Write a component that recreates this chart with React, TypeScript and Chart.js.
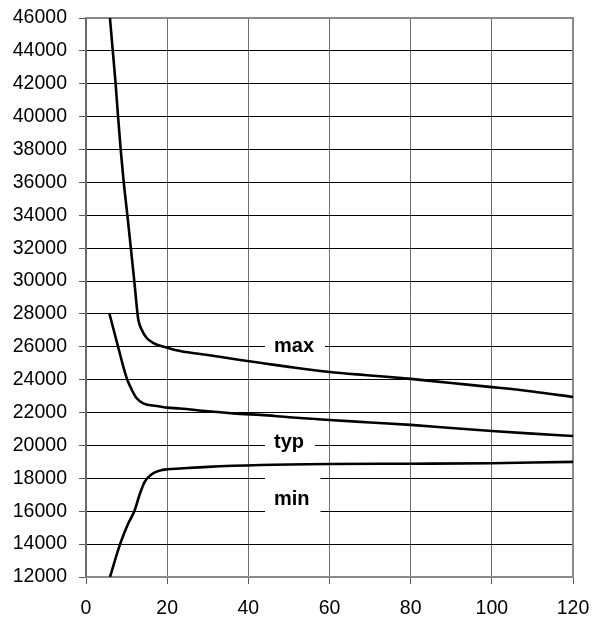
import React, { useEffect, useRef } from "react";
import { Chart, registerables } from "chart.js";

Chart.register(...registerables);

const xTicks = [0, 20, 40, 60, 80, 100, 120];
const yMin = 12000;
const yMax = 46000;

const maxX = [5.9, 6.6, 7.3, 7.9, 8.55, 9.3, 10.2, 11.05, 11.9, 12.7, 12.9, 13.7, 14.9, 16.6, 20, 23.2, 30, 38, 44, 50, 60, 70, 80, 90, 100, 110, 120];
const maxY = [46000, 44000, 42000, 40000, 38000, 36000, 34000, 32000, 30000, 28000, 27630, 27050, 26550, 26230, 25950, 25750, 25500, 25200, 24990, 24780, 24470, 24260, 24050, 23800, 23550, 23280, 22950];

const typX = [5.75, 7.96, 9.2, 10.2, 11.3, 12.5, 14.1, 17.4, 20, 23.2, 30, 38, 43, 50, 60, 70, 80, 90, 100, 110, 120];
const typY = [28040, 25950, 24790, 23980, 23375, 22870, 22565, 22400, 22300, 22250, 22080, 21920, 21860, 21720, 21550, 21400, 21250, 21060, 20880, 20720, 20580];

const minX = [5.9, 8.4, 10.4, 11.9, 13.3, 14.5, 16.2, 18.2, 20, 23.2, 30, 43, 60, 80, 100, 110, 120];
const minY = [12000, 14000, 15250, 16000, 17080, 17800, 18250, 18470, 18550, 18600, 18700, 18810, 18870, 18890, 18920, 18960, 19000];

const seriesNames = ["max", "typ", "min"];
// label anchor (data coords: left edge x, text baseline y)
const labelX = [44.1, 44.1, 44.1];
const labelY = [25686, 19847, 16381];

const FONT = "'Liberation Sans', Arial, sans-serif";

const toPoints = (xs: number[], ys: number[]) => xs.map((x, i) => ({ x, y: ys[i] }));

const framePlugin = {
  id: "frame",
  beforeDatasetsDraw(chart: any) {
    const { ctx, chartArea: a } = chart;
    ctx.save();
    ctx.strokeStyle = "#8a8a8a";
    ctx.lineWidth = 2;
    ctx.strokeRect(a.left, a.top, a.right - a.left, a.bottom - a.top);
    ctx.strokeStyle = "#6a6a6a";
    ctx.lineWidth = 2;
    ctx.beginPath();
    ctx.moveTo(a.left, a.top);
    ctx.lineTo(a.left, a.bottom);
    ctx.stroke();
    ctx.restore();
  },
};

const labelPlugin = {
  id: "seriesLabels",
  afterDatasetsDraw(chart: any) {
    const { ctx, scales } = chart;
    ctx.save();
    ctx.font = `bold 20px ${FONT}`;
    ctx.textBaseline = "alphabetic";
    ctx.textAlign = "left";
    seriesNames.forEach((name, i) => {
      const px = scales.x.getPixelForValue(labelX[i]);
      const py = scales.y.getPixelForValue(labelY[i]);
      const w = ctx.measureText(name).width;
      ctx.fillStyle = "#ffffff";
      ctx.fillRect(px, py - 28, w + 20, 38);
      ctx.fillStyle = "#000000";
      ctx.fillText(name, px + 9, py);
    });
    ctx.restore();
  },
};

export default function App() {
  const ref = useRef<HTMLCanvasElement | null>(null);

  useEffect(() => {
    if (!ref.current) return;
    const mk = (data: any) => ({
      data,
      borderColor: "#000000",
      borderWidth: 2.6,
      pointRadius: 0,
      fill: false,
      cubicInterpolationMode: "monotone" as const,
    });
    const chart = new Chart(ref.current, {
      type: "line",
      data: {
        datasets: [
          { label: "max", ...mk(toPoints(maxX, maxY)) },
          { label: "typ", ...mk(toPoints(typX, typY)) },
          { label: "min", ...mk(toPoints(minX, minY)) },
        ],
      },
      options: {
        animation: false,
        responsive: false,
        devicePixelRatio: 1,
        layout: { padding: { top: 18, right: 19, left: 0, bottom: 0 } },
        plugins: { legend: { display: false }, tooltip: { enabled: false } },
        scales: {
          x: {
            type: "linear",
            min: 0,
            max: 120,
            afterBuildTicks: (s: any) => {
              s.ticks = xTicks.map((v) => ({ value: v }));
            },
            afterFit: (s: any) => {
              s.height = 42;
              s.paddingLeft = 0;
              s.paddingRight = 0;
            },
            ticks: {
              padding: 13,
              color: "#000",
              maxRotation: 0,
              autoSkip: false,
              font: { family: FONT, size: 19.5 },
              callback: (v: any) => String(v),
            },
            grid: { color: "#6e6e6e", lineWidth: 1, tickLength: 7, tickColor: "#5a5a5a" },
            border: { display: false },
          },
          y: {
            type: "linear",
            min: yMin,
            max: yMax,
            ticks: {
              stepSize: 2000,
              padding: 12,
              color: "#000",
              autoSkip: false,
              font: { family: FONT, size: 19.5 },
              callback: (v: any) => String(v),
            },
            afterFit: (s: any) => {
              s.width = 86;
              s.paddingTop = 0;
              s.paddingBottom = 0;
            },
            grid: { color: "#000000", lineWidth: 1, tickLength: 7, tickColor: "#5a5a5a" },
            border: { display: false },
          },
        },
      },
      plugins: [framePlugin, labelPlugin],
    });
    return () => chart.destroy();
  }, []);

  return (
    <div style={{ position: "absolute", left: 0, top: 0, width: 592, height: 619, background: "#fff" }}>
      <canvas ref={ref} width={592} height={619} style={{ display: "block" }} />
    </div>
  );
}
